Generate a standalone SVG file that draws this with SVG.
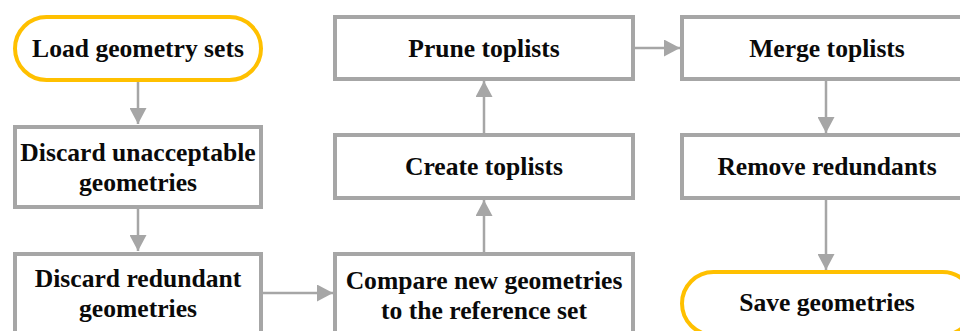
<svg xmlns="http://www.w3.org/2000/svg" width="960" height="331" viewBox="0 0 960 331">
<defs>
<style>
.box{fill:#fff;stroke:#A6A6A6;stroke-width:4}
.term{fill:#fff;stroke:#FFC000;stroke-width:4}
.lbl{font-family:"Liberation Serif","Times New Roman",serif;font-weight:bold;font-size:25.6px;fill:#0a0a0a;text-anchor:middle}
.conn{stroke:#A6A6A6;stroke-width:2.5;fill:none;marker-end:url(#ah)}
</style>
<marker id="ah" markerUnits="userSpaceOnUse" markerWidth="17" markerHeight="17" refX="16" refY="8.5" orient="auto">
<path d="M0,0 L16,8.5 L0,17 z" fill="#A6A6A6"/>
</marker>
</defs>
<rect width="960" height="331" fill="#fff"/>
<g id="connectors">
<line class="conn" x1="138" y1="82" x2="138" y2="124"/>
<line class="conn" x1="138" y1="209" x2="138" y2="251"/>
<line class="conn" x1="263" y1="293" x2="333" y2="293"/>
<line class="conn" x1="484" y1="252" x2="484" y2="200"/>
<line class="conn" x1="484" y1="133" x2="484" y2="81"/>
<line class="conn" x1="635" y1="48" x2="680" y2="48"/>
<line class="conn" x1="826" y1="81" x2="826" y2="133"/>
<line class="conn" x1="826" y1="200" x2="826" y2="270"/>
</g>
<g id="load">
<rect class="term" x="15" y="17" width="246" height="63" rx="31.5"/>
<text class="lbl" x="138" y="57">Load geometry sets</text>
</g>
<g id="discard-unacceptable">
<rect class="box" x="15" y="127" width="246" height="80"/>
<text class="lbl" x="138" y="161">Discard unacceptable</text>
<text class="lbl" x="138" y="191">geometries</text>
</g>
<g id="discard-redundant">
<rect class="box" x="15" y="254" width="246" height="82"/>
<text class="lbl" x="138" y="287">Discard redundant</text>
<text class="lbl" x="138" y="317">geometries</text>
</g>
<g id="compare">
<rect class="box" x="335" y="254" width="298" height="82"/>
<text class="lbl" x="484" y="289">Compare new geometries</text>
<text class="lbl" x="484" y="319">to the reference set</text>
</g>
<g id="create">
<rect class="box" x="335" y="135" width="298" height="63"/>
<text class="lbl" x="484" y="175">Create toplists</text>
</g>
<g id="prune">
<rect class="box" x="335" y="17" width="298" height="62"/>
<text class="lbl" x="484" y="57">Prune toplists</text>
</g>
<g id="merge">
<rect class="box" x="682" y="17" width="292" height="62"/>
<text class="lbl" x="827" y="57">Merge toplists</text>
</g>
<g id="remove">
<rect class="box" x="682" y="135" width="292" height="63"/>
<text class="lbl" x="827" y="175">Remove redundants</text>
</g>
<g id="save">
<rect class="term" x="682" y="272" width="292" height="63" rx="31.5"/>
<text class="lbl" x="827" y="311">Save geometries</text>
</g>
</svg>
